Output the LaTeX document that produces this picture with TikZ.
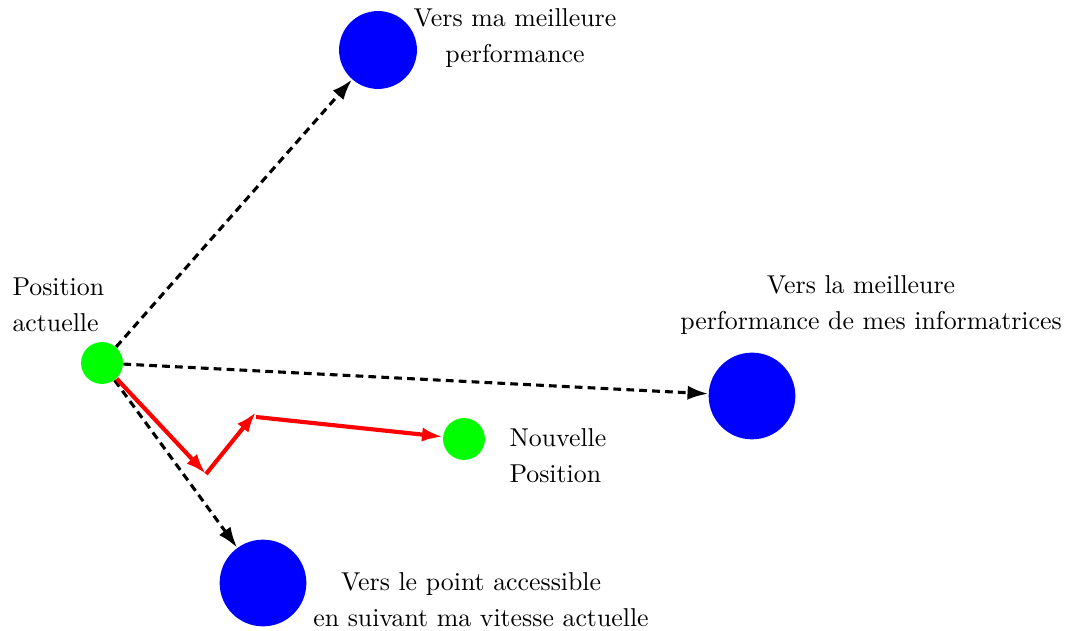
\documentclass[tikz,border=0pt]{standalone}
\usepackage{tikz}
\usetikzlibrary{positioning,arrows.meta}

\begin{document}
\begin{tikzpicture}[x=0.01361cm,y=-0.01361cm,
  posvert/.style={circle,fill=green,inner sep=0pt,minimum size=0.57cm},
  cible/.style={circle,fill=blue,inner sep=0pt,minimum size=1.18cm},
  vise/.style={-{Latex[length=8pt,width=5.5pt]},very thick,dash pattern=on 3pt off 2pt},
  pas/.style={-{Latex[length=8pt,width=5.5pt]},red,line width=1.6pt},
  txt/.style={align=center,inner sep=0pt,font=\fontsize{10}{13.9}\selectfont}]

\useasboundingbox (0,0) rectangle (1065,631);

\node[posvert] (actuelle) at (102,363) {};

\node[cible,minimum size=1.06cm] (ma) at (378,50) {};

\node[cible] (info) at (752,396) {};

\node[cible] (vitesse) at (263,583) {};

\node[posvert] (nouvelle) at (464,439) {};

\coordinate (p1) at (206,474);
\coordinate (p2) at (256,412);
\coordinate (p3) at (256,417);

% Labels
\node[txt,align=left,anchor=west] (lactuelle) at (12,305) {Position\\actuelle};
\node[txt] (lma) at (515,38) {Vers ma meilleure\\performance};
\node[txt] (linfo) at (871,305) {Vers la meilleure\hspace*{7.7pt}\\performance de mes informatrices};
\node[txt] (lvitesse) at (481,600) {Vers le point accessible\hspace*{7.7pt}\\en suivant ma vitesse actuelle};
\node[txt,align=left,anchor=west] (lnouvelle) at (509,456) {Nouvelle\\Position};

% From current position to the three targets
\draw[vise] (actuelle) -- (ma);
\draw[vise] (actuelle) -- (info);
\draw[vise] (actuelle) -- (vitesse);

% Steps to the new position
\draw[pas] (actuelle) -- (p1);
\draw[pas] (p1) -- (p2);
\draw[pas] (p3) -- (nouvelle);

\end{tikzpicture}
\end{document}
